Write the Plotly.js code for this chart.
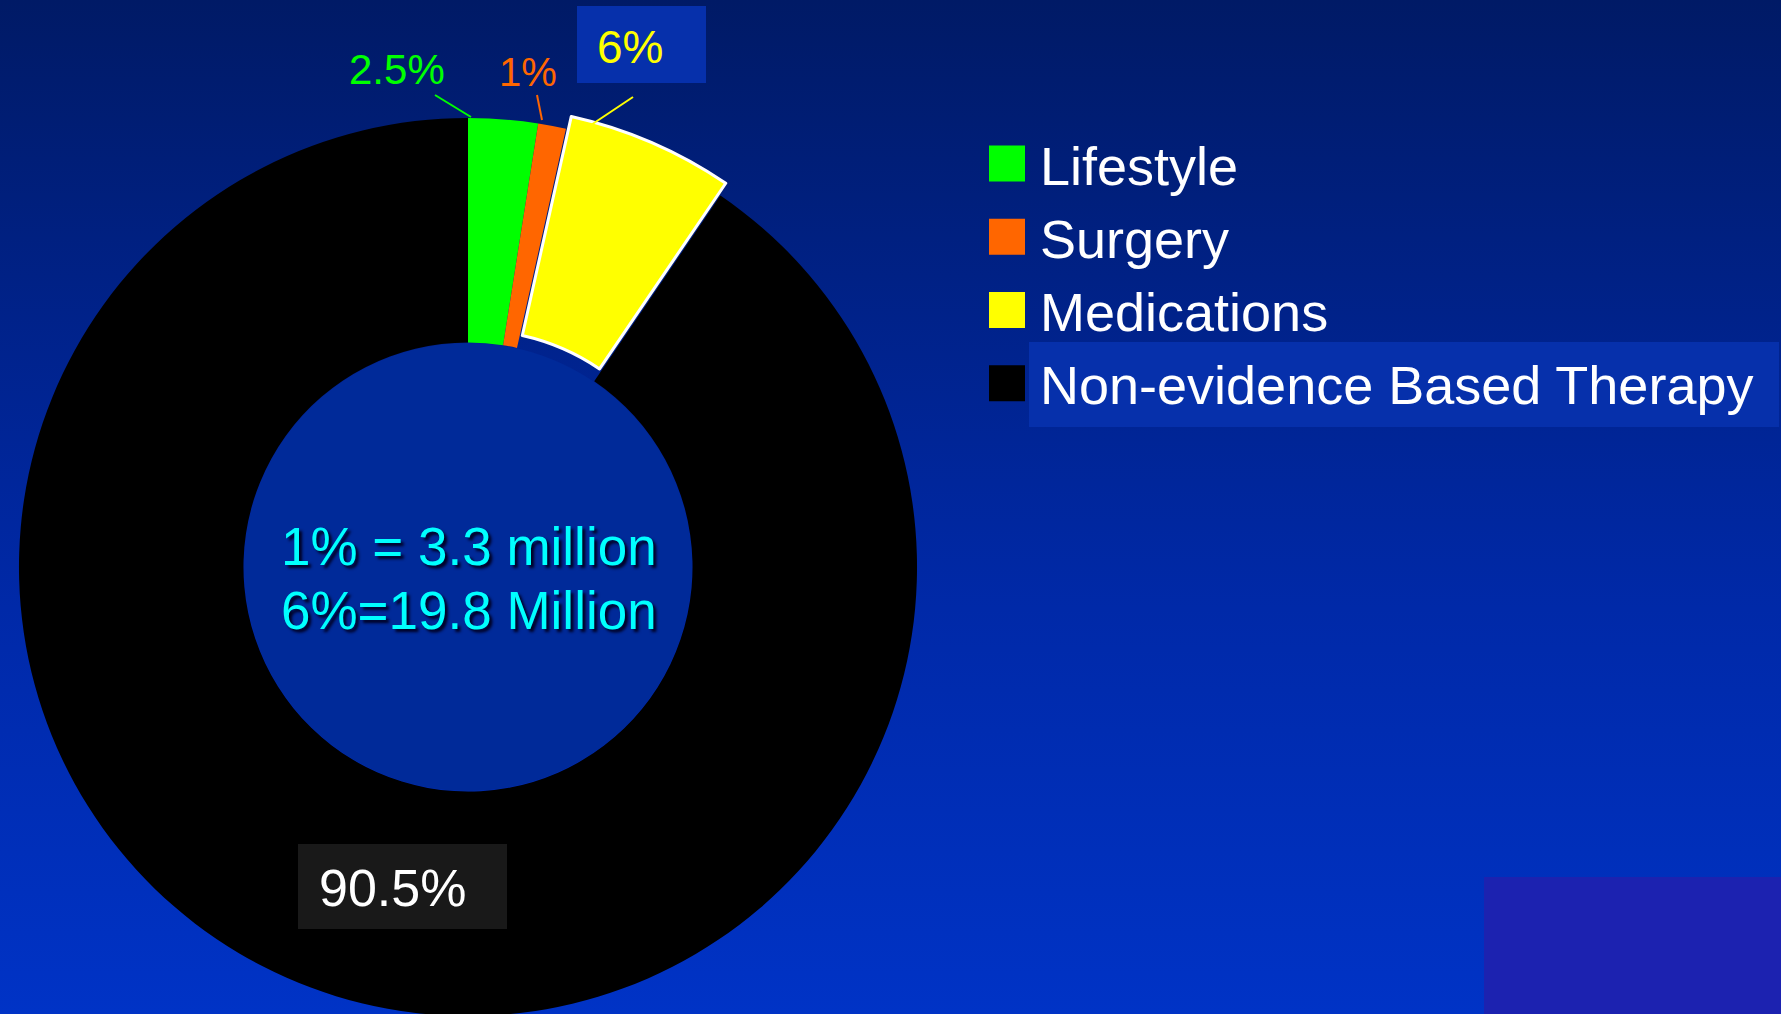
<!DOCTYPE html>
<html>
<head>
<meta charset="utf-8">
<script src="https://cdn.plot.ly/plotly-3.0.1.min.js"></script>
<style>
  html, body { margin:0; padding:0; width:1781px; height:1014px; overflow:hidden; }
  body { background: linear-gradient(to bottom, #001a66 0%, #00238e 35%, #0029a8 60%, #0033c6 100%); }
  #plot { width:1781px; height:1040px; }
  #plot .legend .legendpoints path { transform: translate(20px, 0px) scale(3); stroke-width: 0 !important; }
</style>
</head>
<body>
<div id="plot"></div>
<script>
// ---- data ----
const labels = ["Lifestyle", "Surgery", "Medications", "Non-evidence Based Therapy"];
const values = [2.5, 1, 6, 90.5];
const sliceColors = ["#00ff00", "#ff6600", "#ffff00", "#000000"];
const labelTextColors = ["#00ff00", "#ff6600", "#ffff00", "#ffffff"];
const pulls = [0, 0, 0.03, 0];
const noteLines = ["1% = 3.3 million", "6%=19.8 Million"];

// ---- layout helpers (pixel -> paper) ----
const W = 1781, H = 1040;
const px = x => x / W;
const py = y => 1 - y / H;
const FONT = "Liberation Sans, Arial, sans-serif";

const trace = {
  type: "pie",
  labels: labels,
  values: values,
  sort: false,
  direction: "clockwise",
  rotation: 0,
  hole: 0.5,
  pull: pulls,
  textinfo: "none",
  hoverinfo: "label+percent",
  marker: {
    colors: sliceColors,
    line: { color: ["#000000", "#000000", "#ffffff", "#000000"], width: [0, 0, 3, 0] }
  },
  domain: { x: [px(5.5), px(930.5)], y: [py(1029.5), py(104.5)] }
};

// label placement for the outside percentages
const labelPos = [[397, 70], [528, 72], [630, 47], [392, 888]];
const labelSizes = [42, 40, 46, 52];
const leader = [[[435, 95], [471, 117]], [[537, 95], [542, 120]], [[633, 97], [579, 133]], null];

const shapes = [
  // hole fill
  { type: "circle", layer: "below", xref: "paper", yref: "paper",
    x0: px(468 - 224), x1: px(468 + 224), y0: py(567 + 224), y1: py(567 - 224),
    fillcolor: "#002a99", line: { width: 0 } },
  // highlight box behind 6%
  { type: "rect", layer: "below", xref: "paper", yref: "paper",
    x0: px(577), x1: px(706), y0: py(83), y1: py(6), fillcolor: "#0630ab", line: { width: 0 } },
  // box behind 90.5%
  { type: "rect", layer: "above", xref: "paper", yref: "paper",
    x0: px(298), x1: px(507), y0: py(929), y1: py(844), fillcolor: "#191919", line: { width: 0 } },
  // highlight box behind legend item
  { type: "rect", layer: "below", xref: "paper", yref: "paper",
    x0: px(1029), x1: px(1779), y0: py(427), y1: py(342), fillcolor: "#0630ab", line: { width: 0 } },
  // bottom right block
  { type: "rect", layer: "below", xref: "paper", yref: "paper",
    x0: px(1484), x1: 1, y0: 0, y1: py(877), fillcolor: "#1c22b0", line: { width: 0 } }
];
leader.forEach((seg, i) => {
  if (!seg) return;
  shapes.push({ type: "line", layer: "above", xref: "paper", yref: "paper",
    x0: px(seg[0][0]), y0: py(seg[0][1]), x1: px(seg[1][0]), y1: py(seg[1][1]),
    line: { color: sliceColors[i], width: 2 } });
});

const annotations = values.map((v, i) => ({
  xref: "paper", yref: "paper", x: px(labelPos[i][0]), y: py(labelPos[i][1]),
  xanchor: "center", yanchor: "middle", showarrow: false,
  text: v + "%", font: { family: FONT, size: labelSizes[i], color: labelTextColors[i] }
}));
const noteY = [546, 610];
noteLines.forEach((t, i) => {
  annotations.push({
    xref: "paper", yref: "paper", x: px(469), y: py(noteY[i]),
    xanchor: "center", yanchor: "middle", showarrow: false, text: t,
    font: { family: FONT, size: 53, color: "#00ffff", shadow: "3px 3px 3px #000022" }
  });
});

const layout = {
  width: W, height: H,
  margin: { l: 0, r: 0, t: 0, b: 0, pad: 0 },
  paper_bgcolor: "rgba(0,0,0,0)",
  plot_bgcolor: "rgba(0,0,0,0)",
  showlegend: true,
  legend: {
    x: px(987), y: py(122), xanchor: "left", yanchor: "top",
    bgcolor: "rgba(0,0,0,0)", borderwidth: 0,
    font: { family: FONT, size: 54, color: "#ffffff" },
    itemwidth: 43, traceorder: "normal"
  },
  shapes: shapes,
  annotations: annotations
};

Plotly.newPlot("plot", [trace], layout, { displayModeBar: false, staticPlot: true });
</script>
</body>
</html>
